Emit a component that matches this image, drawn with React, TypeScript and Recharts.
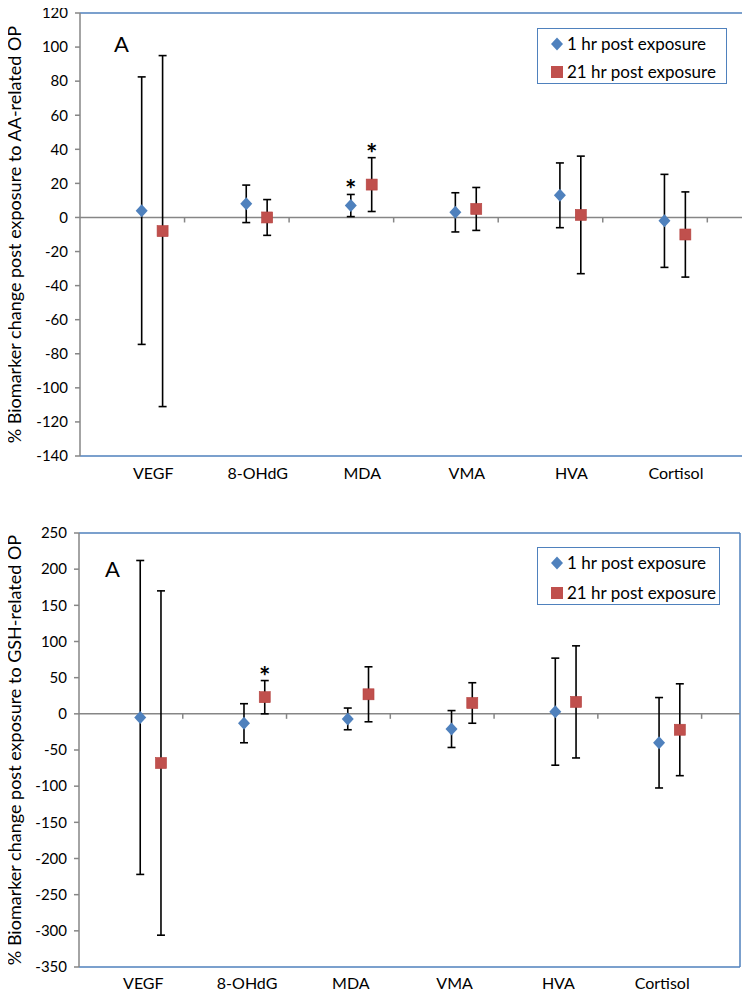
import React from 'react';
import { ScatterChart, Scatter, ErrorBar, XAxis, YAxis, ReferenceLine, Legend } from 'recharts';

const categories = ['VEGF', '8-OHdG', 'MDA', 'VMA', 'HVA', 'Cortisol'];
const seriesNames = ['1 hr post exposure', '21 hr post exposure'];

// panel 1: AA-related OP
const aa1hr = [4, 8, 7, 3, 13, -2];
const aa1hrErr = [78.5, 11, 6.5, 11.5, 19, 27.3];
const aa21hr = [-8, 0, 19.3, 5, 1.5, -10];
const aa21hrErr = [103, 10.5, 15.8, 12.6, 34.5, 25];
const aaStars1hr = ['MDA'];
const aaStars21hr = ['MDA'];
const aaTicks = [-140, -120, -100, -80, -60, -40, -20, 0, 20, 40, 60, 80, 100, 120];

// panel 2: GSH-related OP
const gsh1hr = [-5, -13, -7, -21, 3, -40];
const gsh1hrErr = [217, 27, 15, 25.5, 74, 62.5];
const gsh21hr = [-68, 23, 27, 15, 16.5, -22];
const gsh21hrErr = [238, 23, 38, 28, 77.5, 63.5];
const gshStars1hr: string[] = [];
const gshStars21hr = ['8-OHdG'];
const gshTicks = [-350, -300, -250, -200, -150, -100, -50, 0, 50, 100, 150, 200, 250];

const BLUE = '#4f81bd';
const RED = '#c0504d';
const FRAME = '#4f81bd';
const GREY = '#868686';
const X_MAX = 6.37;
const OFFSET_1HR = 0.59;
const OFFSET_21HR = 0.79;

const rows = (vals: number[], errs: number[], offset: number) =>
  categories.map((c, i) => ({ name: c, x: i + offset, y: vals[i], err: errs[i] }));

const starRows = (names: string[], vals: number[], errs: number[], offset: number) =>
  names.map((n) => {
    const i = categories.indexOf(n);
    return { name: n, x: i + offset, y: vals[i] + errs[i] };
  });

const Diamond = (p: any) => (
  <polygon
    points={`${p.cx},${p.cy - 6.5} ${p.cx + 6},${p.cy} ${p.cx},${p.cy + 6.5} ${p.cx - 6},${p.cy}`}
    fill={BLUE}
  />
);

const Square = (p: any) => (
  <rect x={p.cx - 5.5} y={p.cy - 5.5} width={11} height={11} fill={RED} stroke="#b4413e" strokeWidth={0.6} />
);

const Star = (p: any) => (
  <text x={p.cx} y={p.cy + 5} textAnchor="middle" fontSize={27} fontWeight="bold" fill="#000">
    *
  </text>
);

const yTitle = (text: string) => (props: any) => {
  const vb = props.viewBox || { y: 0, height: 0 };
  const cx = 14;
  const cy = vb.y + vb.height / 2;
  return (
    <text
      x={cx}
      y={cy}
      transform={`rotate(-90, ${cx}, ${cy})`}
      textAnchor="middle"
      dominantBaseline="central"
      fontSize={18}
      fill="#000"
    >
      {text}
    </text>
  );
};

const LegendBox = ({ gap }: { gap: number }) => (
  <div
    style={{
      border: `1.5px solid ${FRAME}`,
      background: '#fff',
      boxSizing: 'border-box',
      padding: '4px 0 0 12px',
      fontSize: 17,
      lineHeight: '22px',
      color: '#000',
    }}
  >
    <div style={{ display: 'flex', alignItems: 'center', height: 22 }}>
      <svg width={14} height={14} style={{ marginRight: 3 }}>
        <polygon points="7,0.5 13,7 7,13.5 1,7" fill={BLUE} />
      </svg>
      {seriesNames[0]}
    </div>
    <div style={{ display: 'flex', alignItems: 'center', height: 22, marginTop: gap - 22 }}>
      <svg width={14} height={14} style={{ marginRight: 3 }}>
        <rect x={1} y={1} width={12} height={12} fill={RED} />
      </svg>
      {seriesNames[1]}
    </div>
  </div>
);

type PanelProps = {
  title: string;
  v1: number[];
  e1: number[];
  v2: number[];
  e2: number[];
  s1: string[];
  s2: string[];
  ticks: number[];
  labelOffset: number;
  margin: { top: number; right: number; left: number; bottom: number };
  yWidth: number;
  xHeight: number;
  tickMargin: number;
  legendPos: { top: number; left: number; width: number; height: number };
  legendGap: number;
  aPos: { top: number; left: number };
};

const Panel = (p: PanelProps) => {
  const yMin = p.ticks[0];
  const yMax = p.ticks[p.ticks.length - 1];
  const plotH = 500 - p.margin.top - p.margin.bottom - p.xHeight;
  const tickLen = ((yMax - yMin) * 5) / plotH;
  const labelTicks = categories.map((_, i) => i + p.labelOffset);
  const stars = [
    ...starRows(p.s1, p.v1, p.e1, OFFSET_1HR),
    ...starRows(p.s2, p.v2, p.e2, OFFSET_21HR),
  ];
  return (
    <div style={{ position: 'relative', width: 750, height: 500 }}>
      <ScatterChart width={750} height={500} margin={p.margin}>
        <XAxis
          type="number"
          dataKey="x"
          domain={[0, X_MAX]}
          ticks={labelTicks}
          interval={0}
          tickFormatter={(v: number) => categories[Math.round(v - p.labelOffset)]}
          tickLine={false}
          tickSize={6}
          tickMargin={p.tickMargin}
          height={p.xHeight}
          axisLine={{ stroke: FRAME, strokeWidth: 1.5 }}
          tick={{ fontSize: 16, fill: '#000' }}
        />
        <YAxis
          type="number"
          dataKey="y"
          domain={[yMin, yMax]}
          ticks={p.ticks}
          interval={0}
          width={p.yWidth}
          tickSize={5}
          tickMargin={7}
          axisLine={{ stroke: GREY, strokeWidth: 1.5 }}
          tickLine={{ stroke: GREY, strokeWidth: 1.5 }}
          tick={{ fontSize: 15, fill: '#000' }}
          label={yTitle(p.title)}
        />
        <ReferenceLine y={yMax} stroke={FRAME} strokeWidth={1.5} />
        <ReferenceLine x={X_MAX} stroke={FRAME} strokeWidth={1.5} />
        <ReferenceLine y={0} stroke={GREY} strokeWidth={1.5} />
        {[1, 2, 3, 4, 5, 6].map((k) => (
          <ReferenceLine
            key={k}
            segment={[
              { x: k, y: 0 },
              { x: k, y: -tickLen },
            ]}
            stroke={GREY}
            strokeWidth={1.5}
          />
        ))}
        <Legend
          layout="vertical"
          align="center"
          verticalAlign="middle"
          wrapperStyle={{ ...p.legendPos }}
          content={() => <LegendBox gap={p.legendGap} />}
        />
        <Scatter name={seriesNames[0]} data={rows(p.v1, p.e1, OFFSET_1HR)} shape={Diamond} isAnimationActive={false}>
          <ErrorBar dataKey="err" direction="y" width={4} stroke="#000" strokeWidth={1.6} isAnimationActive={false} />
        </Scatter>
        <Scatter name={seriesNames[1]} data={rows(p.v2, p.e2, OFFSET_21HR)} shape={Square} isAnimationActive={false}>
          <ErrorBar dataKey="err" direction="y" width={4} stroke="#000" strokeWidth={1.6} isAnimationActive={false} />
        </Scatter>
        <Scatter name="sig" data={stars} shape={Star} isAnimationActive={false} legendType="none" />
      </ScatterChart>
      <div
        style={{
          position: 'absolute',
          top: p.aPos.top,
          left: p.aPos.left,
          fontSize: 22,
          lineHeight: '26px',
          color: '#000',
        }}
      >
        A
      </div>
    </div>
  );
}

export default function App() {
  return (
    <div style={{ margin: '-8px 0 0 -8px', fontFamily: 'Lato, "Open Sans", sans-serif', background: '#fff' }}>
      <Panel
        title="% Biomarker change post exposure to AA-related OP"
        v1={aa1hr}
        e1={aa1hrErr}
        v2={aa21hr}
        e2={aa21hrErr}
        s1={aaStars1hr}
        s2={aaStars21hr}
        ticks={aaTicks}
        labelOffset={0.7}
        margin={{ top: 13, right: 4, left: 0, bottom: 0 }}
        yWidth={80}
        xHeight={44}
        tickMargin={6}
        legendPos={{ top: 28, left: 537, width: 190, height: 57 }}
        legendGap={28}
        aPos={{ top: 31, left: 114 }}
      />
      <Panel
        title="% Biomarker change post exposure to GSH-related OP"
        v1={gsh1hr}
        e1={gsh1hrErr}
        v2={gsh21hr}
        e2={gsh21hrErr}
        s1={gshStars1hr}
        s2={gshStars21hr}
        ticks={gshTicks}
        labelOffset={0.62}
        margin={{ top: 33, right: 10, left: 0, bottom: 0 }}
        yWidth={79}
        xHeight={33}
        tickMargin={5}
        legendPos={{ top: 47, left: 537, width: 183, height: 62 }}
        legendGap={30}
        aPos={{ top: 56, left: 105 }}
      />
    </div>
  );
}
